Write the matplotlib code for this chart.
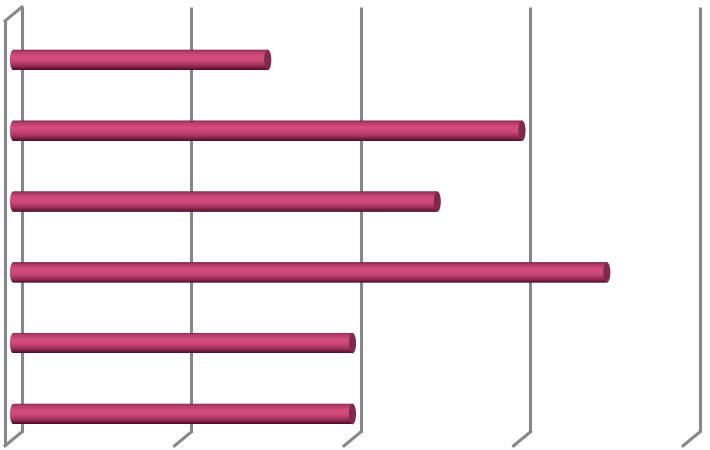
import numpy as np
import matplotlib
matplotlib.use("Agg")
import matplotlib.pyplot as plt
from matplotlib.patches import Ellipse, PathPatch
from matplotlib.path import Path
from matplotlib.colors import LinearSegmentedColormap

# values read top to bottom (no labels in the picture)
categories = ["A", "B", "C", "D", "E", "F"]
values = [1.5, 3.0, 2.5, 3.5, 2.0, 2.0]
grid_ticks = [0, 1, 2, 3, 4]

# depth offset of the back / front planes relative to the bar plane
DX = 0.05
DY = 0.099
wall_top = -0.65
wall_bottom = 5.35
bar_h = 0.29
cap_w = 0.042

grey = "#878787"
cyl = LinearSegmentedColormap.from_list("cyl", [
    (0.0, "#6e1d3f"), (0.1, "#b03a66"), (0.35, "#d54d7f"),
    (0.55, "#cd4878"), (0.8, "#9c2e59"), (1.0, "#4a0f27")])

fig = plt.figure(figsize=(7.1, 4.5), dpi=100)
ax = fig.add_axes([0, 0, 1, 1])
ax.axis("off")

# back wall gridlines + floor ticks
for g in grid_ticks:
    ax.plot([g + DX, g + DX], [wall_top - DY, wall_bottom - DY], color=grey, lw=2.2,
            solid_capstyle="butt", zorder=1)
    ax.plot([g + DX, g - DX], [wall_bottom - DY, wall_bottom + DY], color=grey, lw=2.2,
            zorder=1)
# left side wall
ax.plot([-DX, -DX], [wall_top + DY, wall_bottom + DY], color=grey, lw=2.2,
        solid_capstyle="butt", zorder=1)
ax.plot([-DX, DX], [wall_top + DY, wall_top - DY], color=grey, lw=2.2, zorder=1)

grad = np.linspace(0, 1, 64).reshape(-1, 1)
for i, v in enumerate(values):
    y0, y1 = i - bar_h / 2, i + bar_h / 2
    t = np.linspace(-np.pi / 2, np.pi / 2, 30)
    left = [(-cap_w / 2 * np.cos(a), i + bar_h / 2 * np.sin(a)) for a in t]
    verts = left + [(v, y1), (v, y0), left[0]]
    clip = PathPatch(Path(verts, closed=True), transform=ax.transData,
                     facecolor="none", edgecolor="none")
    ax.add_patch(clip)
    im = ax.imshow(grad, cmap=cyl, aspect="auto", interpolation="bilinear",
                   extent=[-cap_w, v, y1, y0], zorder=3)
    im.set_clip_path(clip)
    ax.add_patch(Ellipse((v, i), cap_w, bar_h, facecolor="#7e2a4c",
                         edgecolor="none", zorder=4))

ax.set_xlim(-0.0796, 4.109)
ax.set_ylim(5.508, -0.847)

fig.savefig("out.png", dpi=100)
